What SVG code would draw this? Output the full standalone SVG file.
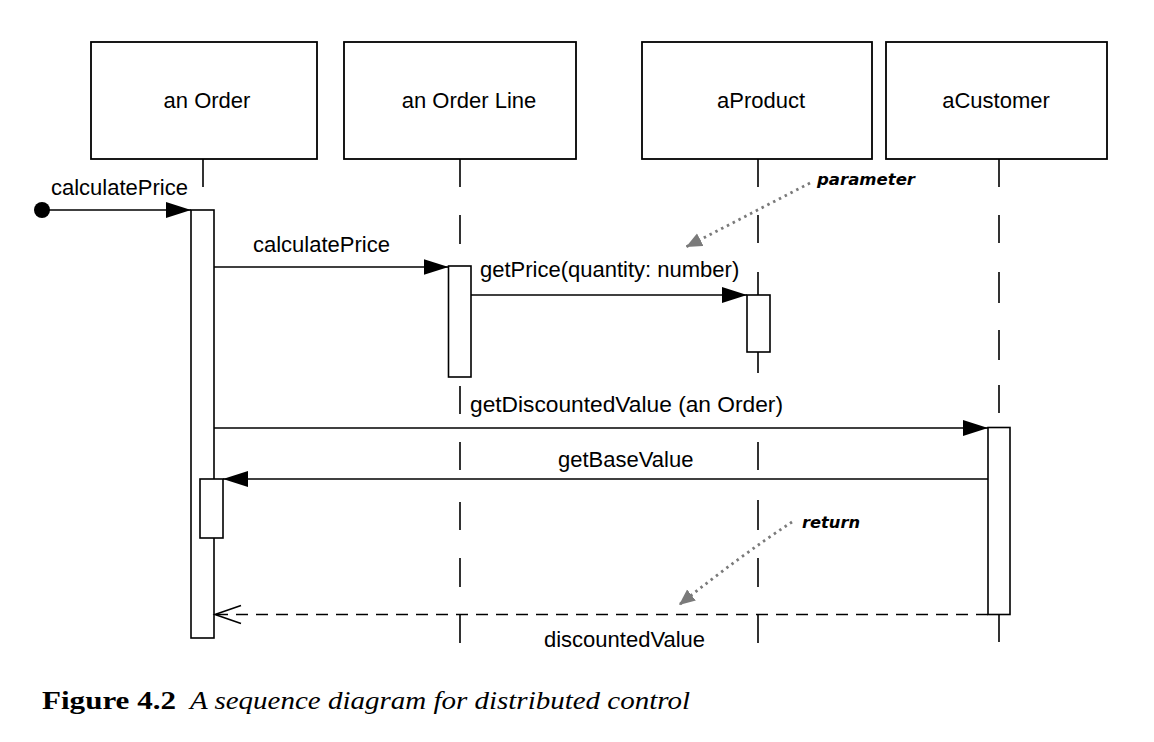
<svg xmlns="http://www.w3.org/2000/svg" width="1154" height="742" viewBox="0 0 1154 742">
<style>
  .box{fill:#fff;stroke:#000;stroke-width:1.8}
  .act{fill:#fff;stroke:#000;stroke-width:1.6}
  .life{fill:none;stroke:#000;stroke-width:1.6}
  .msg{fill:none;stroke:#000;stroke-width:1.6}
  .ret{fill:none;stroke:#000;stroke-width:1.6;stroke-dasharray:12 8}
  .note{fill:none;stroke:#7a7a7a;stroke-width:2.8;stroke-dasharray:2.5 4}
  .lbl{font-family:"Liberation Sans",Arial,sans-serif;font-size:22px;fill:#000}
  .nm{font-family:"Liberation Sans",Arial,sans-serif;font-size:22px;fill:#000;text-anchor:middle}
  .ann{font-family:"DejaVu Sans",sans-serif;font-size:16px;font-weight:bold;font-style:oblique;fill:#000}
  .cap{font-family:"Liberation Serif","Times New Roman",serif;font-size:26px;fill:#000}
</style>
<defs>
  <marker id="sync" markerUnits="userSpaceOnUse" markerWidth="26" markerHeight="18" refX="25" refY="8" orient="auto">
    <path d="M0,0 L25,8 L0,16 Z" fill="#000"/>
  </marker>
  <marker id="open" markerUnits="userSpaceOnUse" markerWidth="30" markerHeight="22" refX="27" refY="10" orient="auto">
    <path d="M1,1 L27,10 L1,19" fill="none" stroke="#000" stroke-width="1.6"/>
  </marker>
  <marker id="gray" markerUnits="userSpaceOnUse" markerWidth="18" markerHeight="16" refX="16" refY="7" orient="auto">
    <path d="M0,0 L16,7 L0,14 Z" fill="#7a7a7a"/>
  </marker>
</defs>

<g id="anOrder">
  <rect class="box" x="91" y="42" width="226" height="117"/>
  <text class="nm" x="207" y="108">an Order</text>
  <path class="life" d="M203,159 V187"/>
  <rect class="act" x="191" y="210" width="23" height="428"/>
  <rect class="act" x="200" y="479" width="23" height="59"/>
</g>

<g id="anOrderLine">
  <rect class="box" x="344" y="42" width="232" height="117"/>
  <text class="nm" x="469" y="108">an Order Line</text>
  <path class="life" d="M460,159 V187 M460,215 V244 M460,386 V414 M460,442 V470 M460,502 V530 M460,558 V587 M460,615 V643"/>
  <rect class="act" x="448.5" y="266" width="22.5" height="111"/>
</g>

<g id="aProduct">
  <rect class="box" x="642" y="42" width="230" height="117"/>
  <text class="nm" x="761" y="108">aProduct</text>
  <path class="life" d="M758,159 V187 M758,215 V243 M758,272 V295 M758,352 V373 M758,442 V470 M758,500 V530 M758,558 V587 M758,615 V643"/>
  <rect class="act" x="747" y="295" width="23" height="57"/>
</g>

<g id="aCustomer">
  <rect class="box" x="886" y="42" width="221" height="117"/>
  <text class="nm" x="996" y="108">aCustomer</text>
  <path class="life" d="M999,159 V187 M999,215 V243 M999,272 V303 M999,330 V360 M999,385 V413 M999,615 V642"/>
  <rect class="act" x="988" y="427.5" width="22" height="187"/>
</g>

<g id="connectors">
  <circle cx="42" cy="210" r="8" fill="#000"/>
  <line class="msg" x1="42" y1="210" x2="191" y2="210" marker-end="url(#sync)"/>
  <text class="lbl" x="51" y="195">calculatePrice</text>

  <line class="msg" x1="214" y1="267" x2="448.5" y2="267" marker-end="url(#sync)"/>
  <text class="lbl" x="253" y="252">calculatePrice</text>

  <line class="msg" x1="471" y1="295" x2="747" y2="295" marker-end="url(#sync)"/>
  <text class="lbl" x="480" y="277">getPrice(quantity: number)</text>

  <line class="msg" x1="214" y1="428" x2="988" y2="428" marker-end="url(#sync)"/>
  <text class="lbl" x="470" y="412" textLength="313" lengthAdjust="spacingAndGlyphs">getDiscountedValue (an Order)</text>

  <line class="msg" x1="988" y1="479" x2="223" y2="479" marker-end="url(#sync)"/>
  <text class="lbl" x="558" y="467">getBaseValue</text>

  <line class="ret" x1="988" y1="614.5" x2="215" y2="614.5" marker-end="url(#open)"/>
  <text class="lbl" x="544" y="647">discountedValue</text>

  <path class="note" d="M810,183 L686,247" marker-end="url(#gray)"/>
  <text class="ann" x="817" y="185" textLength="98" lengthAdjust="spacingAndGlyphs">parameter</text>

  <path class="note" d="M792,522 Q740,556 679,605" marker-end="url(#gray)"/>
  <text class="ann" x="802" y="528" textLength="58" lengthAdjust="spacingAndGlyphs">return</text>
</g>

<g id="caption">
  <text class="cap" x="42" y="709" font-weight="bold" textLength="134" lengthAdjust="spacingAndGlyphs">Figure 4.2</text>
  <text class="cap" x="190" y="709" font-style="italic" textLength="500" lengthAdjust="spacingAndGlyphs">A sequence diagram for distributed control</text>
</g>
</svg>
